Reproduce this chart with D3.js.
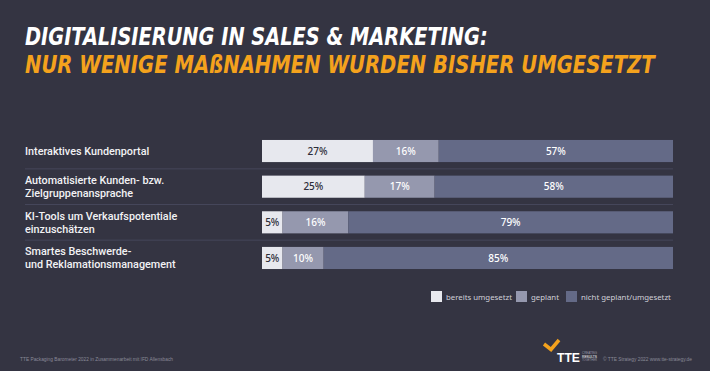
<!DOCTYPE html>
<html>
<head>
<meta charset="utf-8">
<script src="https://cdn.jsdelivr.net/npm/d3@7"></script>
<style>
  html, body { margin: 0; padding: 0; background: #343442; }
  svg { display: block; }
</style>
</head>
<body>
<svg id="chart" width="710" height="371"></svg>
<script>
// data
const categories = [
    ["Interaktives Kundenportal"],
    ["Automatisierte Kunden- bzw.", "Zielgruppenansprache"],
    ["KI-Tools um Verkaufspotentiale", "einzuschätzen"],
    ["Smartes Beschwerde-", "und Reklamationsmanagement"]
]
const seriesNames = ["bereits umgesetzt", "geplant", "nicht geplant/umgesetzt"]
const umgesetzt = [27, 25, 5, 5]
const geplant = [16, 17, 16, 10]
const nichtGeplant = [57, 58, 79, 85]

const colors = ["#e7e8ee", "#9598ae", "#646a87"]
const width = 710, height = 371

const svg = d3.select("#chart")

svg.append("rect")
    .attr("width", width)
    .attr("height", height)
    .attr("fill", "#343442")

// title, squeezed horizontally to the width of the original lines
const titleFont = "'Liberation Sans Narrow', 'DejaVu Sans Condensed', sans-serif"
function titleLine(text, baseline, targetWidth, color) {
    const t = svg.append("text")
        .attr("x", 0)
        .attr("y", 0)
        .style("font-family", titleFont)
        .style("font-weight", "bold")
        .style("font-style", "italic")
        .style("font-size", "25px")
        .attr("fill", color)
        .text(text)
    const w = t.node().getComputedTextLength()
    t.attr("transform", `translate(25,${baseline}) scale(${targetWidth / w},1)`)
}
titleLine("DIGITALISIERUNG IN SALES & MARKETING:", 45, 463, "#ffffff")
titleLine("NUR WENIGE MAßNAHMEN WURDEN BISHER UMGESETZT", 73, 630, "#f4a21d")

// scales
const x = d3.scaleLinear()
    .domain([0, 100])
    .range([262, 673])
const y = d3.scaleBand()
    .domain(d3.range(categories.length))
    .range([133.2, 275.8])
    .paddingInner(0.38)
    .paddingOuter(0.19)

// separators between rows
svg.selectAll(".sep")
    .data(d3.range(1, categories.length))
    .join("line")
    .attr("class", "sep")
    .attr("x1", 25)
    .attr("x2", 673)
    .attr("y1", d => y(d) - y.step() * y.paddingInner() / 2)
    .attr("y2", d => y(d) - y.step() * y.paddingInner() / 2)
    .attr("stroke", "#45465a")
    .attr("stroke-width", 1)

// labels
const labelFont = "Roboto, 'Noto Sans', sans-serif"
const valueFont = "'Noto Sans', 'Open Sans', sans-serif"
svg.selectAll(".label")
    .data(categories)
    .join("text")
    .attr("class", "label")
    .attr("x", 25)
    .attr("y", (d, i) => y(i) + y.bandwidth() / 2 + 4 - (d.length - 1) * 6.5)
    .style("font-family", labelFont)
    .style("font-weight", "500")
    .style("font-size", "10.8px")
    .attr("fill", "#f2f2f4")
    .each(function(d) {
        d3.select(this).selectAll("tspan")
            .data(d)
            .join("tspan")
            .attr("x", 25)
            .attr("dy", (t, j) => j == 0 ? 0 : 13)
            .text(t => t)
    })

// stacked bars
const rows = categories.map((c, i) => ({
    i: i,
    values: [umgesetzt[i], geplant[i], nichtGeplant[i]]
}))
const stack = d3.stack().keys([0, 1, 2]).value((d, k) => d.values[k])
const series = stack(rows)

const g = svg.selectAll(".series")
    .data(series)
    .join("g")
    .attr("class", "series")

g.selectAll("rect")
    .data(d => d.map(s => ({s: s, k: d.key})))
    .join("rect")
    .attr("x", d => x(d.s[0]))
    .attr("y", d => y(d.s.data.i))
    .attr("width", d => x(d.s[1]) - x(d.s[0]))
    .attr("height", y.bandwidth())
    .attr("fill", d => colors[d.k])

g.selectAll("text")
    .data(d => d.map(s => ({s: s, k: d.key})))
    .join("text")
    .attr("x", d => (x(d.s[0]) + x(d.s[1])) / 2)
    .attr("y", d => y(d.s.data.i) + y.bandwidth() / 2 + 3.6)
    .attr("text-anchor", "middle")
    .style("font-family", valueFont)
    .style("font-weight", "500")
    .style("font-size", "10px")
    .attr("fill", d => d.k == 0 ? "#2e2e38" : "#ffffff")
    .text(d => (d.s[1] - d.s[0]) + "%")

// legend
const legendX = [431, 516, 566]
const legend = svg.selectAll(".legend")
    .data(seriesNames)
    .join("g")
    .attr("class", "legend")
    .attr("transform", (d, i) => `translate(${legendX[i]},291)`)
legend.append("rect")
    .attr("width", 11)
    .attr("height", 11)
    .attr("fill", (d, i) => colors[i])
legend.append("text")
    .attr("x", 15)
    .attr("y", 8.5)
    .style("font-family", valueFont)
    .style("font-size", "7.8px")
    .attr("fill", "#d0d0d8")
    .text(d => d)

// footer
svg.append("text")
    .attr("x", 20)
    .attr("y", 361)
    .attr("textLength", 153)
    .attr("lengthAdjust", "spacingAndGlyphs")
    .style("font-family", "'Liberation Sans Narrow', sans-serif")
    .style("font-size", "5px")
    .attr("fill", "#8a8a98")
    .text("TTE Packaging Barometer 2022 in Zusammenarbeit mit IFD Allensbach")

svg.append("text")
    .attr("x", 603)
    .attr("y", 361)
    .attr("textLength", 89)
    .attr("lengthAdjust", "spacingAndGlyphs")
    .style("font-family", "'Liberation Sans Narrow', sans-serif")
    .style("font-size", "5px")
    .attr("fill", "#8a8a98")
    .text("© TTE Strategy 2022 www.tte-strategy.de")

// logo
const logo = svg.append("g")
logo.append("path")
    .attr("d", "M544,344 L551,349.5 L559,340")
    .attr("fill", "none")
    .attr("stroke", "#f4a21d")
    .attr("stroke-width", 3.5)
logo.append("text")
    .attr("x", 557)
    .attr("y", 362)
    .attr("textLength", 23)
    .attr("lengthAdjust", "spacingAndGlyphs")
    .style("font-family", "'Liberation Sans Narrow', sans-serif")
    .style("font-weight", "bold")
    .style("font-size", "13px")
    .attr("fill", "#ffffff")
    .text("TTE")
logo.selectAll(".tag")
    .data(["CREATING", "RESULTS", "TOGETHER"])
    .join("text")
    .attr("class", "tag")
    .attr("x", 582)
    .attr("y", (d, i) => 354 + i * 3.6)
    .attr("textLength", 15)
    .attr("lengthAdjust", "spacingAndGlyphs")
    .style("font-family", "'Liberation Sans Narrow', sans-serif")
    .style("font-size", "3.4px")
    .attr("fill", (d, i) => i == 1 ? "#ffffff" : "#9a9aa8")
    .text(d => d)
</script>
</body>
</html>
